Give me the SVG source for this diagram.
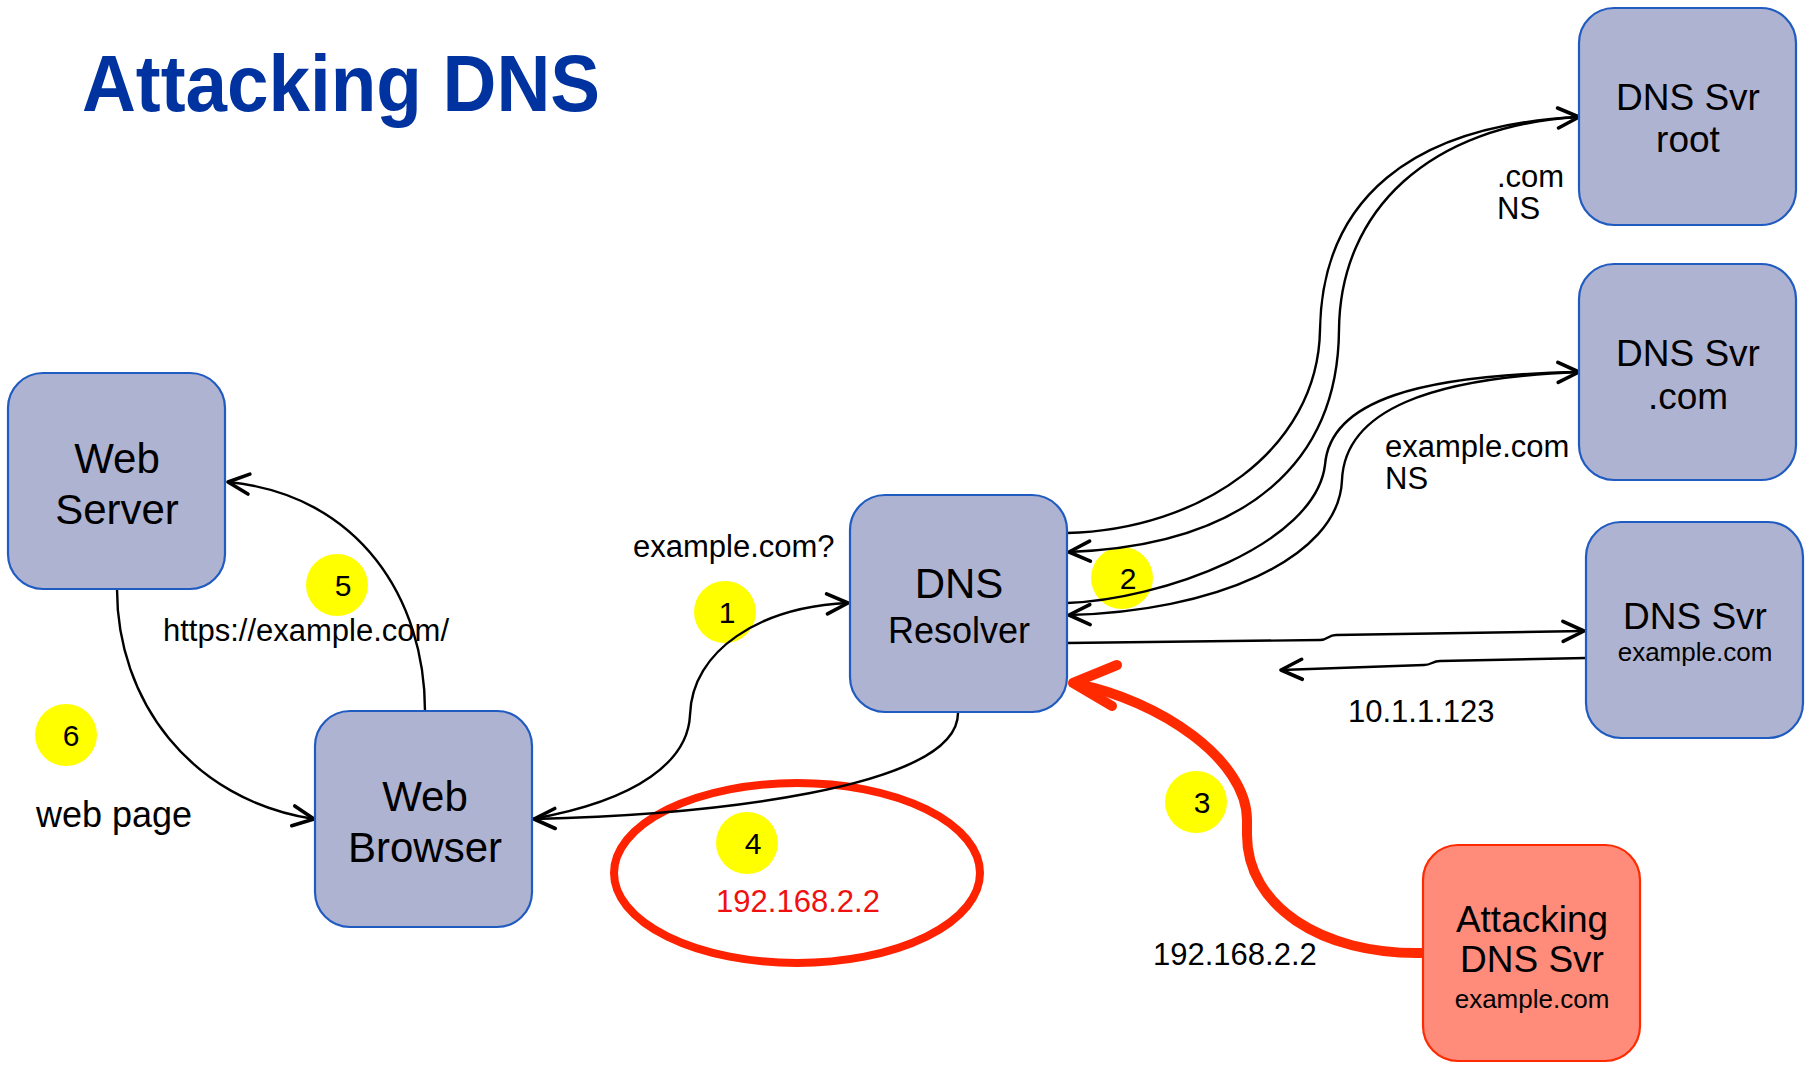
<svg xmlns="http://www.w3.org/2000/svg" width="1810" height="1066" viewBox="0 0 1810 1066">
<defs>
<style>
text{font-family:"Liberation Sans",Arial,Helvetica,sans-serif;fill:#000}
.node rect{fill:#AEB3D1;stroke:#1F5BC0;stroke-width:2.2}
.node.attack rect{fill:#FF8B7A;stroke:#FF2A00}
.nt{text-anchor:middle}
.lbl{font-size:31px}
.num{font-size:30px;text-anchor:middle}
.badge{fill:#FFFF00}
.conn path{fill:none;stroke:#000;stroke-width:2.4}
</style>
<marker id="arr" viewBox="-26 -14 30 28" refX="0" refY="0" markerWidth="30" markerHeight="28" markerUnits="userSpaceOnUse" orient="auto">
<path d="M-21,-10 L0,0 L-21,10" fill="none" stroke="#000" stroke-width="3.6" stroke-linecap="round" stroke-linejoin="round"/>
</marker>
</defs>
<rect width="1810" height="1066" fill="#fff"/>

<text x="82" y="111" font-size="80" font-weight="bold" style="fill:#0033A0" textLength="518" lengthAdjust="spacingAndGlyphs">Attacking DNS</text>

<g id="badges">
<circle class="badge" cx="725" cy="612" r="31"/>
<circle class="badge" cx="1122" cy="578" r="31"/>
<circle class="badge" cx="1196" cy="802" r="31"/>
<circle class="badge" cx="747" cy="843" r="31"/>
<circle class="badge" cx="337" cy="585" r="31"/>
<circle class="badge" cx="66" cy="735" r="31"/>
<text class="num" x="727" y="623">1</text>
<text class="num" x="1128" y="589">2</text>
<text class="num" x="1202" y="813">3</text>
<text class="num" x="753" y="854">4</text>
<text class="num" x="343" y="596">5</text>
<text class="num" x="71" y="746">6</text>
</g>

<ellipse id="highlight" cx="797" cy="873" rx="183" ry="90" fill="none" stroke="#FF2200" stroke-width="8"/>

<g id="connectors" class="conn">
<path d="M1067,533 C1200,530 1318,450 1320,330 C1322,200 1410,125 1579,117" marker-end="url(#arr)"/>
<path d="M1579,117 C1430,125 1340,210 1339,330 C1338,460 1250,545 1069,552" marker-end="url(#arr)"/>
<path d="M1067,603 C1160,600 1315,545 1325,465 C1330,400 1420,375 1579,372" marker-end="url(#arr)"/>
<path d="M1579,372 C1430,378 1345,410 1342,480 C1339,560 1210,612 1069,615" marker-end="url(#arr)"/>
<path d="M1067,643 L1320,640 C1328,640 1328,635 1336,635 L1584,631" marker-end="url(#arr)"/>
<path d="M1586,658 L1440,661 C1432,661 1432,665 1424,665 L1281,670" marker-end="url(#arr)"/>
<path d="M532,819 C640,800 688,760 690,715 C692,650 760,607 848,603" marker-end="url(#arr)"/>
<path d="M958,712 C960,790 700,815 534,819" marker-end="url(#arr)"/>
<path d="M425,711 C425,600 360,495 228,482" marker-end="url(#arr)"/>
<path d="M117,589 C117,700 190,800 314,819" marker-end="url(#arr)"/>
<path d="M1423,953 C1320,955 1247,905 1247,835 L1247,820 C1247,760 1160,700 1076,684" style="stroke:#FF2A00;stroke-width:10"/>
<path d="M1117,665 L1073,683 L1112,706" style="stroke:#FF2A00;stroke-width:10;stroke-linecap:round;stroke-linejoin:round"/>
</g>

<g id="labels">
<text class="lbl" x="1497" y="187">.com</text>
<text class="lbl" x="1497" y="219">NS</text>
<text class="lbl" x="1385" y="457">example.com</text>
<text class="lbl" x="1385" y="489">NS</text>
<text class="lbl" x="1348" y="722">10.1.1.123</text>
<text class="lbl" x="1153" y="965">192.168.2.2</text>
<text class="lbl" x="633" y="557">example.com?</text>
<text class="lbl" x="798" y="912" text-anchor="middle" style="fill:#F01010">192.168.2.2</text>
<text class="lbl" x="163" y="641">https://example.com/</text>
<text x="36" y="827" font-size="36">web page</text>
</g>

<g id="node-root" class="node">
<rect x="1579" y="8" width="217" height="217" rx="35"/>
<text class="nt" x="1688" y="110" font-size="37">DNS Svr</text>
<text class="nt" x="1688" y="152" font-size="37">root</text>
</g>
<g id="node-com" class="node">
<rect x="1579" y="264" width="217" height="216" rx="35"/>
<text class="nt" x="1688" y="366" font-size="37">DNS Svr</text>
<text class="nt" x="1688" y="409" font-size="37">.com</text>
</g>
<g id="node-example" class="node">
<rect x="1586" y="522" width="217" height="216" rx="35"/>
<text class="nt" x="1695" y="629" font-size="37">DNS Svr</text>
<text class="nt" x="1695" y="661" font-size="26">example.com</text>
</g>
<g id="node-resolver" class="node">
<rect x="850" y="495" width="217" height="217" rx="35"/>
<text class="nt" x="959" y="598" font-size="42">DNS</text>
<text class="nt" x="959" y="643" font-size="36">Resolver</text>
</g>
<g id="node-webserver" class="node">
<rect x="8" y="373" width="217" height="216" rx="35"/>
<text class="nt" x="117" y="473" font-size="42">Web</text>
<text class="nt" x="117" y="524" font-size="42">Server</text>
</g>
<g id="node-browser" class="node">
<rect x="315" y="711" width="217" height="216" rx="35"/>
<text class="nt" x="425" y="811" font-size="42">Web</text>
<text class="nt" x="425" y="862" font-size="42">Browser</text>
</g>
<g id="node-attacker" class="node attack">
<rect x="1423" y="845" width="217" height="216" rx="35"/>
<text class="nt" x="1532" y="932" font-size="37">Attacking</text>
<text class="nt" x="1532" y="972" font-size="37">DNS Svr</text>
<text class="nt" x="1532" y="1008" font-size="26">example.com</text>
</g>
</svg>
